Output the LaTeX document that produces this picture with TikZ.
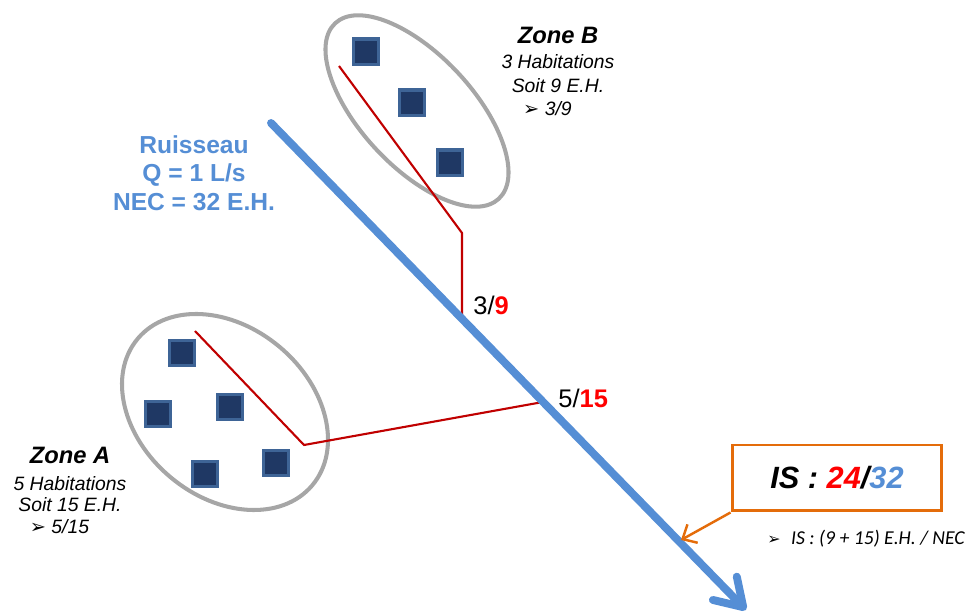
\documentclass[tikz,border=0pt]{standalone}
\usepackage{fontspec}
\setmainfont{Liberation Sans}
\newfontfamily\notefont{Carlito}
\newfontfamily\symfont{DejaVu Sans}
\usepackage{xcolor}
\usetikzlibrary{shapes.geometric, arrows.meta, positioning}

\definecolor{riverblue}{HTML}{558ED5}
\definecolor{collred}{HTML}{C00000}
\definecolor{zonegray}{HTML}{A6A6A6}
\definecolor{housefill}{HTML}{1F3864}
\definecolor{houseedge}{HTML}{3E6496}
\definecolor{isorange}{HTML}{E46C0A}

\begin{document}
\begin{tikzpicture}[
    x=0.02cm, y=-0.02cm,
    zone/.style={ellipse, draw=zonegray, line width=2.3pt, inner sep=0pt},
    house/.style={rectangle, fill=housefill, draw=houseedge, line width=2pt, minimum size=14.5pt, inner sep=0pt},
    collector/.style={draw=collred, line width=1.2pt},
    river/.style={draw=riverblue, line width=4.5pt, line cap=round, -{Straight Barb[length=15pt, width=19pt, round]}},
    pointer/.style={draw=isorange, line width=1.4pt, -{Straight Barb[length=6.5pt, width=12pt]}},
    ztitle/.style={font=\bfseries\itshape\fontsize{13.5}{16}\selectfont, inner sep=0pt},
    zbody/.style={align=center, inner sep=0pt},
    flow/.style={font=\fontsize{14.5}{17}\selectfont, anchor=base west, inner sep=0pt}
]
\useasboundingbox (0,0) rectangle (971,614);

% Zones
\node[zone, minimum width=4.8cm, minimum height=2.24cm, rotate=-47] (zoneB) at (417,111) {};
\node[zone, minimum width=4.56cm, minimum height=3.4cm, rotate=-40] (zoneA) at (225,412) {};

% Houses
\node[house] (b1) at (366,52) {};
\node[house] (b2) at (412,103) {};
\node[house] (b3) at (450,163) {};
\node[house] (a1) at (182,353) {};
\node[house] (a2) at (158,414) {};
\node[house] (a3) at (230,407) {};
\node[house] (a4) at (205,474) {};
\node[house] (a5) at (276,463) {};

% River and junctions
\coordinate (src) at (271,123);
\coordinate (mouth) at (746,610);
\coordinate (jB) at (462,319);
\coordinate (jA) at (543,402);
\coordinate (target) at (681,540);

% Collectors
\coordinate (bStart) at (339,66);
\coordinate (bBend) at (462,233);
\coordinate (aStart) at (195,331);
\coordinate (aBend) at (304,445);
\draw[collector] (bStart) -- (bBend) -- (jB);
\draw[collector] (aStart) -- (aBend) -- (jA);

\draw[river] (src) -- (mouth);

% Labels
\node[anchor=north, inner sep=0pt, align=center, text=riverblue,
      font=\bfseries\fontsize{14}{16.2}\selectfont] (ruisseau) at (194,135)
      {Ruisseau\\Q = 1 L/s\\NEC = 32 E.H.};

\node[ztitle] (zoneBtitle) at (558,35) {Zone B};
\node[zbody, font=\itshape\fontsize{11}{13.4}\selectfont, below=6pt of zoneBtitle] (zoneBtext)
      {3 Habitations\\Soit 9 E.H.\\{\symfont\upshape\bfseries ➢}~3/9\hbox to 12pt{}};

\node[ztitle] (zoneAtitle) at (70,455) {Zone A};
\node[zbody, font=\itshape\fontsize{11}{12.2}\selectfont, below=7pt of zoneAtitle] (zoneAtext)
      {5 Habitations\\Soit 15 E.H.\\{\symfont\upshape\bfseries ➢}~5/15\hbox to 12pt{}};

\node[flow] (flowB) at (473,315) {3/\textcolor{red}{\textbf{9}}};
\node[flow] (flowA) at (558,408) {5/\textcolor{red}{\textbf{15}}};

% Pollution index
\node[draw=isorange, line width=1.7pt, minimum width=4.2cm, minimum height=1.32cm,
      font=\bfseries\itshape\fontsize{17.5}{20}\selectfont] (is) at (837,478)
      {IS : \textcolor{red}{24}/\textcolor{riverblue}{32}};
\draw[pointer] (is.south west) -- (target);
\node[anchor=base west, inner sep=0pt, font=\notefont\itshape\fontsize{11.2}{13}\selectfont] (isnote) at (767,545)
      {{\symfont\upshape\bfseries\fontsize{9}{11}\selectfont ➢}\hspace{6pt}IS : (9 + 15) E.H. / NEC};

\end{tikzpicture}
\end{document}
